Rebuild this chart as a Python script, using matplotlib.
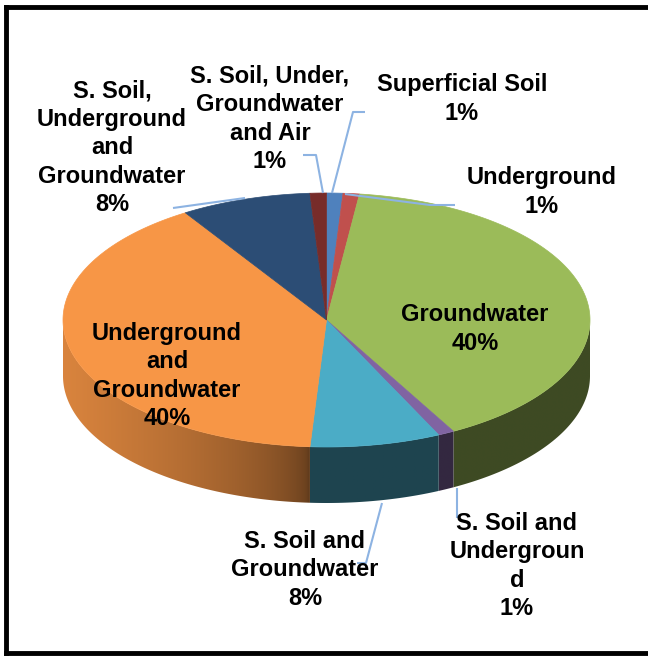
"""3D-style pie chart of contamination by compartment."""

import numpy as np
import matplotlib
matplotlib.use("Agg")
import matplotlib.pyplot as plt
from matplotlib.patches import Polygon
from matplotlib.colors import to_rgb

labels = [
    "Superficial Soil",
    "Underground",
    "Groundwater",
    "S. Soil and\nUndergroun\nd",
    "S. Soil and\nGroundwater",
    "Underground\nand\nGroundwater",
    "S. Soil,\nUnderground\nand\nGroundwater",
    "S. Soil, Under,\nGroundwater\nand Air",
]
values = [1, 1, 40, 1, 8, 40, 8, 1]
colors = ["#4F81BD", "#C0504D", "#9BBB59", "#8064A2",
          "#4BACC6", "#F79646", "#2C4D75", "#772C2A"]

# label anchor (pixels) and leader line path for each slice
label_pos = [(462, 99), (542, 192), (475, 329), (517, 566),
             (305, 570), (167, 376), (112, 148), (270, 119)]
leaders = [
    [(365, 112), (353, 112), (332, 193)],
    [(455, 205), (430, 205), (345, 194)],
    None,
    [(457, 518), (457, 488)],
    [(357, 563), (366, 563), (382, 503)],
    None,
    [(173, 208), (245, 198)],
    [(303, 155), (316, 155), (323, 193)],
]

# ellipse geometry in pixels
cx, cy, ra, rb, depth = 326.5, 320, 263.5, 127, 56
light_x = cx - 18  # walls left of this get lit from the left

fig = plt.figure(figsize=(6.48, 6.56), dpi=100)
ax = fig.add_axes([0, 0, 1, 1])
ax.set_xlim(0, 648)
ax.set_ylim(656, 0)
ax.axis("off")


def rim(t):
    t = np.radians(t)
    return cx + ra * np.sin(t), cy - rb * np.cos(t)


fracs = np.array(values, dtype=float) / sum(values)
edges = np.concatenate([[0], np.cumsum(fracs)]) * 360

# side walls: horizontal shading gradient clipped to each wall outline
for i, col in enumerate(colors):
    lo, hi = max(edges[i], 90), min(edges[i + 1], 270)
    if hi <= lo:
        continue
    ts = np.linspace(lo, hi, 200)
    xs, ys = rim(ts)
    outline = list(zip(xs, ys)) + list(zip(xs[::-1], ys[::-1] + depth))
    wall = Polygon(outline, closed=True, facecolor="none", edgecolor="none")
    ax.add_patch(wall)

    x0, x1 = xs.min() - 2, xs.max() + 2
    gx = np.linspace(x0, x1, 300)
    s = np.clip((light_x - gx) / (light_x - (cx - ra)), 0, 1)
    f = 0.40 + 0.48 * s ** 0.55
    grad = np.clip(np.array(to_rgb(col))[None, :] * f[:, None], 0, 1)[None, :, :]
    im = ax.imshow(grad, extent=(x0, x1, ys.max() + depth + 2, ys.min() - 2),
                   aspect="auto", interpolation="bilinear", zorder=1)
    im.set_clip_path(wall)

# top faces
for i, col in enumerate(colors):
    ts = np.linspace(edges[i], edges[i + 1], max(3, int((edges[i + 1] - edges[i]) * 2)))
    xs, ys = rim(ts)
    pts = [(cx, cy)] + list(zip(xs, ys))
    ax.add_patch(Polygon(pts, closed=True, facecolor=col, edgecolor=col,
                         lw=0.5, zorder=2))

ax.set_xlim(0, 648)
ax.set_ylim(656, 0)

# leader lines and labels
for lab, v, pos, path in zip(labels, values, label_pos, leaders):
    if path:
        px, py = zip(*path)
        ax.plot(px, py, color="#8DB3E2", lw=1.5, solid_capstyle="butt", zorder=3)
    ax.text(pos[0], pos[1], f"{lab}\n{v}%", ha="center", va="center",
            fontsize=17, fontweight="bold", family="Liberation Sans",
            linespacing=1.3, color="black", zorder=4)

# outer frame
ax.plot([5.5, 5.5], [7, 653], color="black", lw=3.5)
ax.plot([5.5, 648], [7, 7], color="black", lw=3.5)
ax.plot([5.5, 648], [653, 653], color="black", lw=3.5)

fig.savefig("out.png", dpi=100)
